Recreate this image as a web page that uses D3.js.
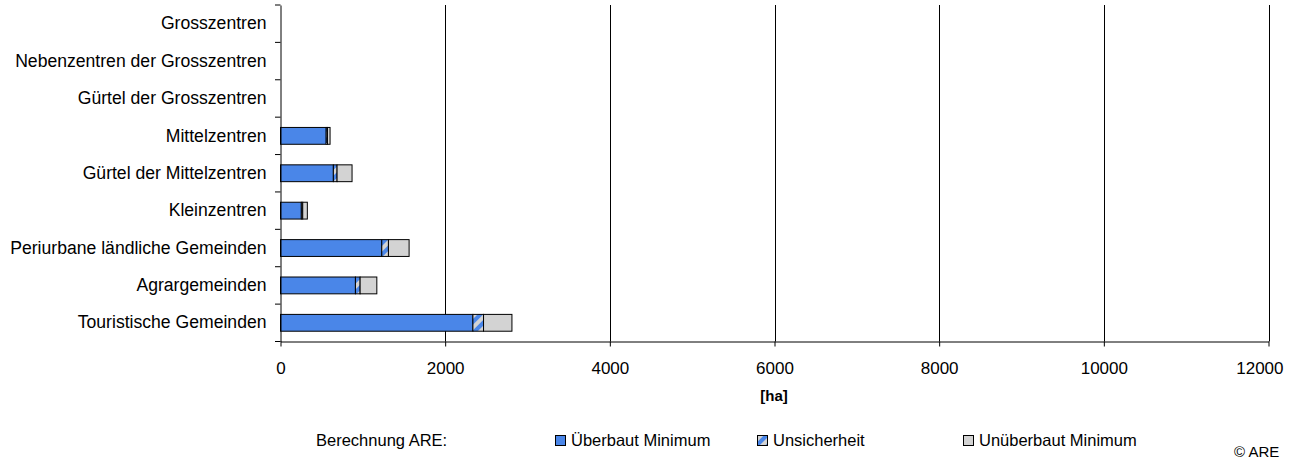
<!DOCTYPE html>
<html><head><meta charset="utf-8">
<script src="https://cdn.jsdelivr.net/npm/d3@7"></script>
<style>body{margin:0;background:#fff}svg{display:block}text{font-family:"Liberation Sans",Arial,sans-serif;fill:#000}</style>
</head><body><svg id="c" width="1311" height="463"></svg>
<script>
const categories = ["Grosszentren","Nebenzentren der Grosszentren","Gürtel der Grosszentren","Mittelzentren","Gürtel der Mittelzentren","Kleinzentren","Periurbane ländliche Gemeinden","Agrargemeinden","Touristische Gemeinden"];
const ueberbautMin = [0,0,0,555,642,253,1230,910,2337];
const unsicherheit = [0,0,0,15,45,17,81,57,129];
const unueberbautMin = [0,0,0,32,182,56,251,203,345];
const xTicks = [0,2000,4000,6000,8000,10000,12000];
const seriesNames = ["Überbaut Minimum","Unsicherheit","Unüberbaut Minimum"];

const svg = d3.select("#c");
const defs = svg.append("defs");
const pat = defs.append("pattern").attr("id","hatch").attr("patternUnits","userSpaceOnUse")
  .attr("width",8).attr("height",8).attr("patternTransform","rotate(45)");
pat.append("rect").attr("width",8).attr("height",8).attr("fill","#d3d3d3");
pat.append("rect").attr("width",4).attr("height",8).attr("fill","#4a86e8");

const x = d3.scaleLinear().domain([0,12000]).range([280.5,1268.5]);
const y = d3.scaleBand().domain(categories).range([5,341.5]).paddingInner(0.55).paddingOuter(0.275);
const yb = d3.scaleBand().domain(categories).range([5,341.5]);

// gridlines
svg.append("g").selectAll("line").data(xTicks.slice(1)).join("line")
  .attr("x1",d=>Math.round(x(d))+0.5).attr("x2",d=>Math.round(x(d))+0.5)
  .attr("y1",5).attr("y2",341.5).attr("stroke","#000").attr("stroke-width",1);

const fills = ["#4a86e8","url(#hatch)","#d3d3d3"];
const data = categories.map((c,i)=>({c, v:[ueberbautMin[i],unsicherheit[i],unueberbautMin[i]]}));
const stack = d3.stack().keys([0,1,2]).value((d,k)=>d.v[k])(data);
stack.forEach((s,k)=>{
  svg.append("g").selectAll("rect").data(s.filter(d=>d[1]-d[0]>0)).join("rect")
    .attr("x",d=>x(d[0])).attr("width",d=>x(d[1])-x(d[0]))
    .attr("y",d=>y(d.data.c)).attr("height",y.bandwidth())
    .attr("fill",fills[k]).attr("stroke","#000").attr("stroke-width",1);
});

// axes
const xa = svg.append("g").attr("transform","translate(0,341.5)")
  .call(d3.axisBottom(x).tickValues(xTicks).tickSize(5).tickSizeOuter(0).tickFormat(d3.format("d")));
xa.select(".domain").attr("stroke","#000");
xa.selectAll("text").attr("font-size",17).attr("dy",null).attr("y",32).attr("font-family","Liberation Sans, Arial");
xa.selectAll(".tick").filter(d=>d===12000).select("text").attr("text-anchor","end").attr("x",14.5);
const ya = svg.append("g").attr("transform","translate(280.5,0)")
  .call(d3.axisLeft(yb).tickSize(0).tickSizeOuter(0));
ya.selectAll("text").attr("font-size",17.6).attr("x",-14).attr("font-family","Liberation Sans, Arial");
ya.select(".domain").attr("stroke","#000");
// band boundary ticks
svg.append("g").selectAll("line").data(d3.range(categories.length+1)).join("line")
  .attr("x1",275).attr("x2",280.5)
  .attr("y1",i=>5+i*yb.step()).attr("y2",i=>5+i*yb.step()).attr("stroke","#000");

svg.append("text").attr("x",774).attr("y",401).attr("text-anchor","middle")
  .attr("font-size",15).attr("font-weight","bold").text("[ha]");

// legend
const lg = svg.append("g").attr("font-size",16.5);
lg.append("text").attr("x",316).attr("y",446).text("Berechnung ARE:");
const lx = [555,757,963];
seriesNames.forEach((n,k)=>{
  lg.append("rect").attr("x",lx[k]+0.5).attr("y",435.5).attr("width",10).attr("height",10)
    .attr("fill",fills[k]).attr("stroke","#000");
  lg.append("text").attr("x",lx[k]+16).attr("y",446).text(n);
});
svg.append("text").attr("x",1234).attr("y",457).attr("font-size",15).text("© ARE");
</script></body></html>
